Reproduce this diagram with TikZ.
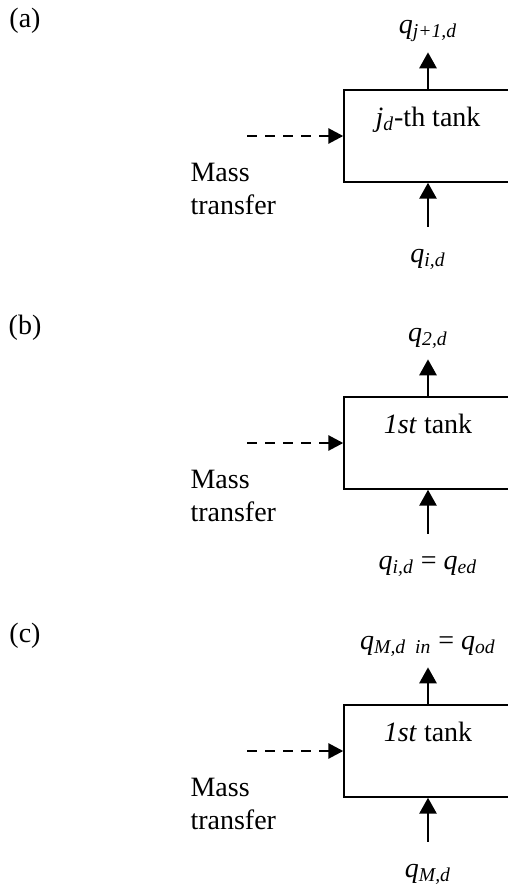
\documentclass[tikz,border=0pt]{standalone}
\usepackage{fontspec}
\setmainfont{Liberation Serif}
\usetikzlibrary{positioning, arrows.meta}

\newcommand{\flowq}[1]{\textit{q}\textsubscript{\textit{#1}}}

\begin{document}
\begin{tikzpicture}[x=0.5pt, y=-0.5pt, node distance=10pt,
    every node/.style={font=\fontsize{14}{16.5}\selectfont},
    tank/.style={draw, line width=0.7pt, minimum width=84pt, minimum height=46pt, inner sep=0pt},
    tankname/.style={inner sep=0pt},
    qlabel/.style={inner sep=0pt},
    mass/.style={align=left, inner sep=0pt},
    flow/.style={line width=1.4pt, -{Triangle[length=8pt, width=8.5pt]}},
    transfer/.style={line width=1.4pt, dash pattern=on 5pt off 4pt, -{Triangle[length=7.5pt, width=7.5pt]}}]

    \useasboundingbox (0,0) rectangle (508,885);
    \clip (0,0) rectangle (508,885);

    % (a) j-th tank
    \node (tagA) at (25,21) {(a)};
    \node (tankA) [tank] at (428,136) {};
    \node (nameA) [tankname, below=8.5pt of tankA.north] {\textit{j}\textsubscript{\textit{d}}-th tank};
    \coordinate[above=18.5pt of tankA] (tipA);
    \node (outA) [qlabel, above=5pt of tipA] {\flowq{j+1,d}};
    \coordinate[below=22pt of tankA] (tailA);
    \node (inA) [qlabel, below=11pt of tailA] {\flowq{i,d}};
    \coordinate[left=48pt of tankA] (srcA);
    \node (massA) [mass, below=13.5pt of srcA, xshift=-7pt] {Mass\\transfer};

    % (b) first tank
    \node (tagB) at (25,328) {(b)};
    \node (tankB) [tank] at (428,443) {};
    \node (nameB) [tankname, below=8.5pt of tankB.north] {\textit{1st} tank};
    \coordinate[above=18.5pt of tankB] (tipB);
    \node (outB) [qlabel, above=5pt of tipB] {\flowq{2,d}};
    \coordinate[below=22pt of tankB] (tailB);
    \node (inB) [qlabel, below=11pt of tailB] {\flowq{i,d} = \flowq{ed}};
    \coordinate[left=48pt of tankB] (srcB);
    \node (massB) [mass, below=13.5pt of srcB, xshift=-7pt] {Mass\\transfer};

    % (c) last tank
    \node (tagC) at (25,636) {(c)};
    \node (tankC) [tank] at (428,751) {};
    \node (nameC) [tankname, below=8.5pt of tankC.north] {\textit{1st} tank};
    \coordinate[above=18.5pt of tankC] (tipC);
    \node (outC) [qlabel, above=5pt of tipC] {\flowq{M,d\ \ in} = \flowq{od}};
    \coordinate[below=22pt of tankC] (tailC);
    \node (inC) [qlabel, below=11pt of tailC] {\flowq{M,d}};
    \coordinate[left=48pt of tankC] (srcC);
    \node (massC) [mass, below=13.5pt of srcC, xshift=-7pt] {Mass\\transfer};

    % Flows
    \draw[flow] (tankA) -- (tipA);
    \draw[flow] (tailA) -- (tankA);
    \draw[transfer] (srcA) -- (tankA);
    \draw[flow] (tankB) -- (tipB);
    \draw[flow] (tailB) -- (tankB);
    \draw[transfer] (srcB) -- (tankB);
    \draw[flow] (tankC) -- (tipC);
    \draw[flow] (tailC) -- (tankC);
    \draw[transfer] (srcC) -- (tankC);
\end{tikzpicture}
\end{document}
